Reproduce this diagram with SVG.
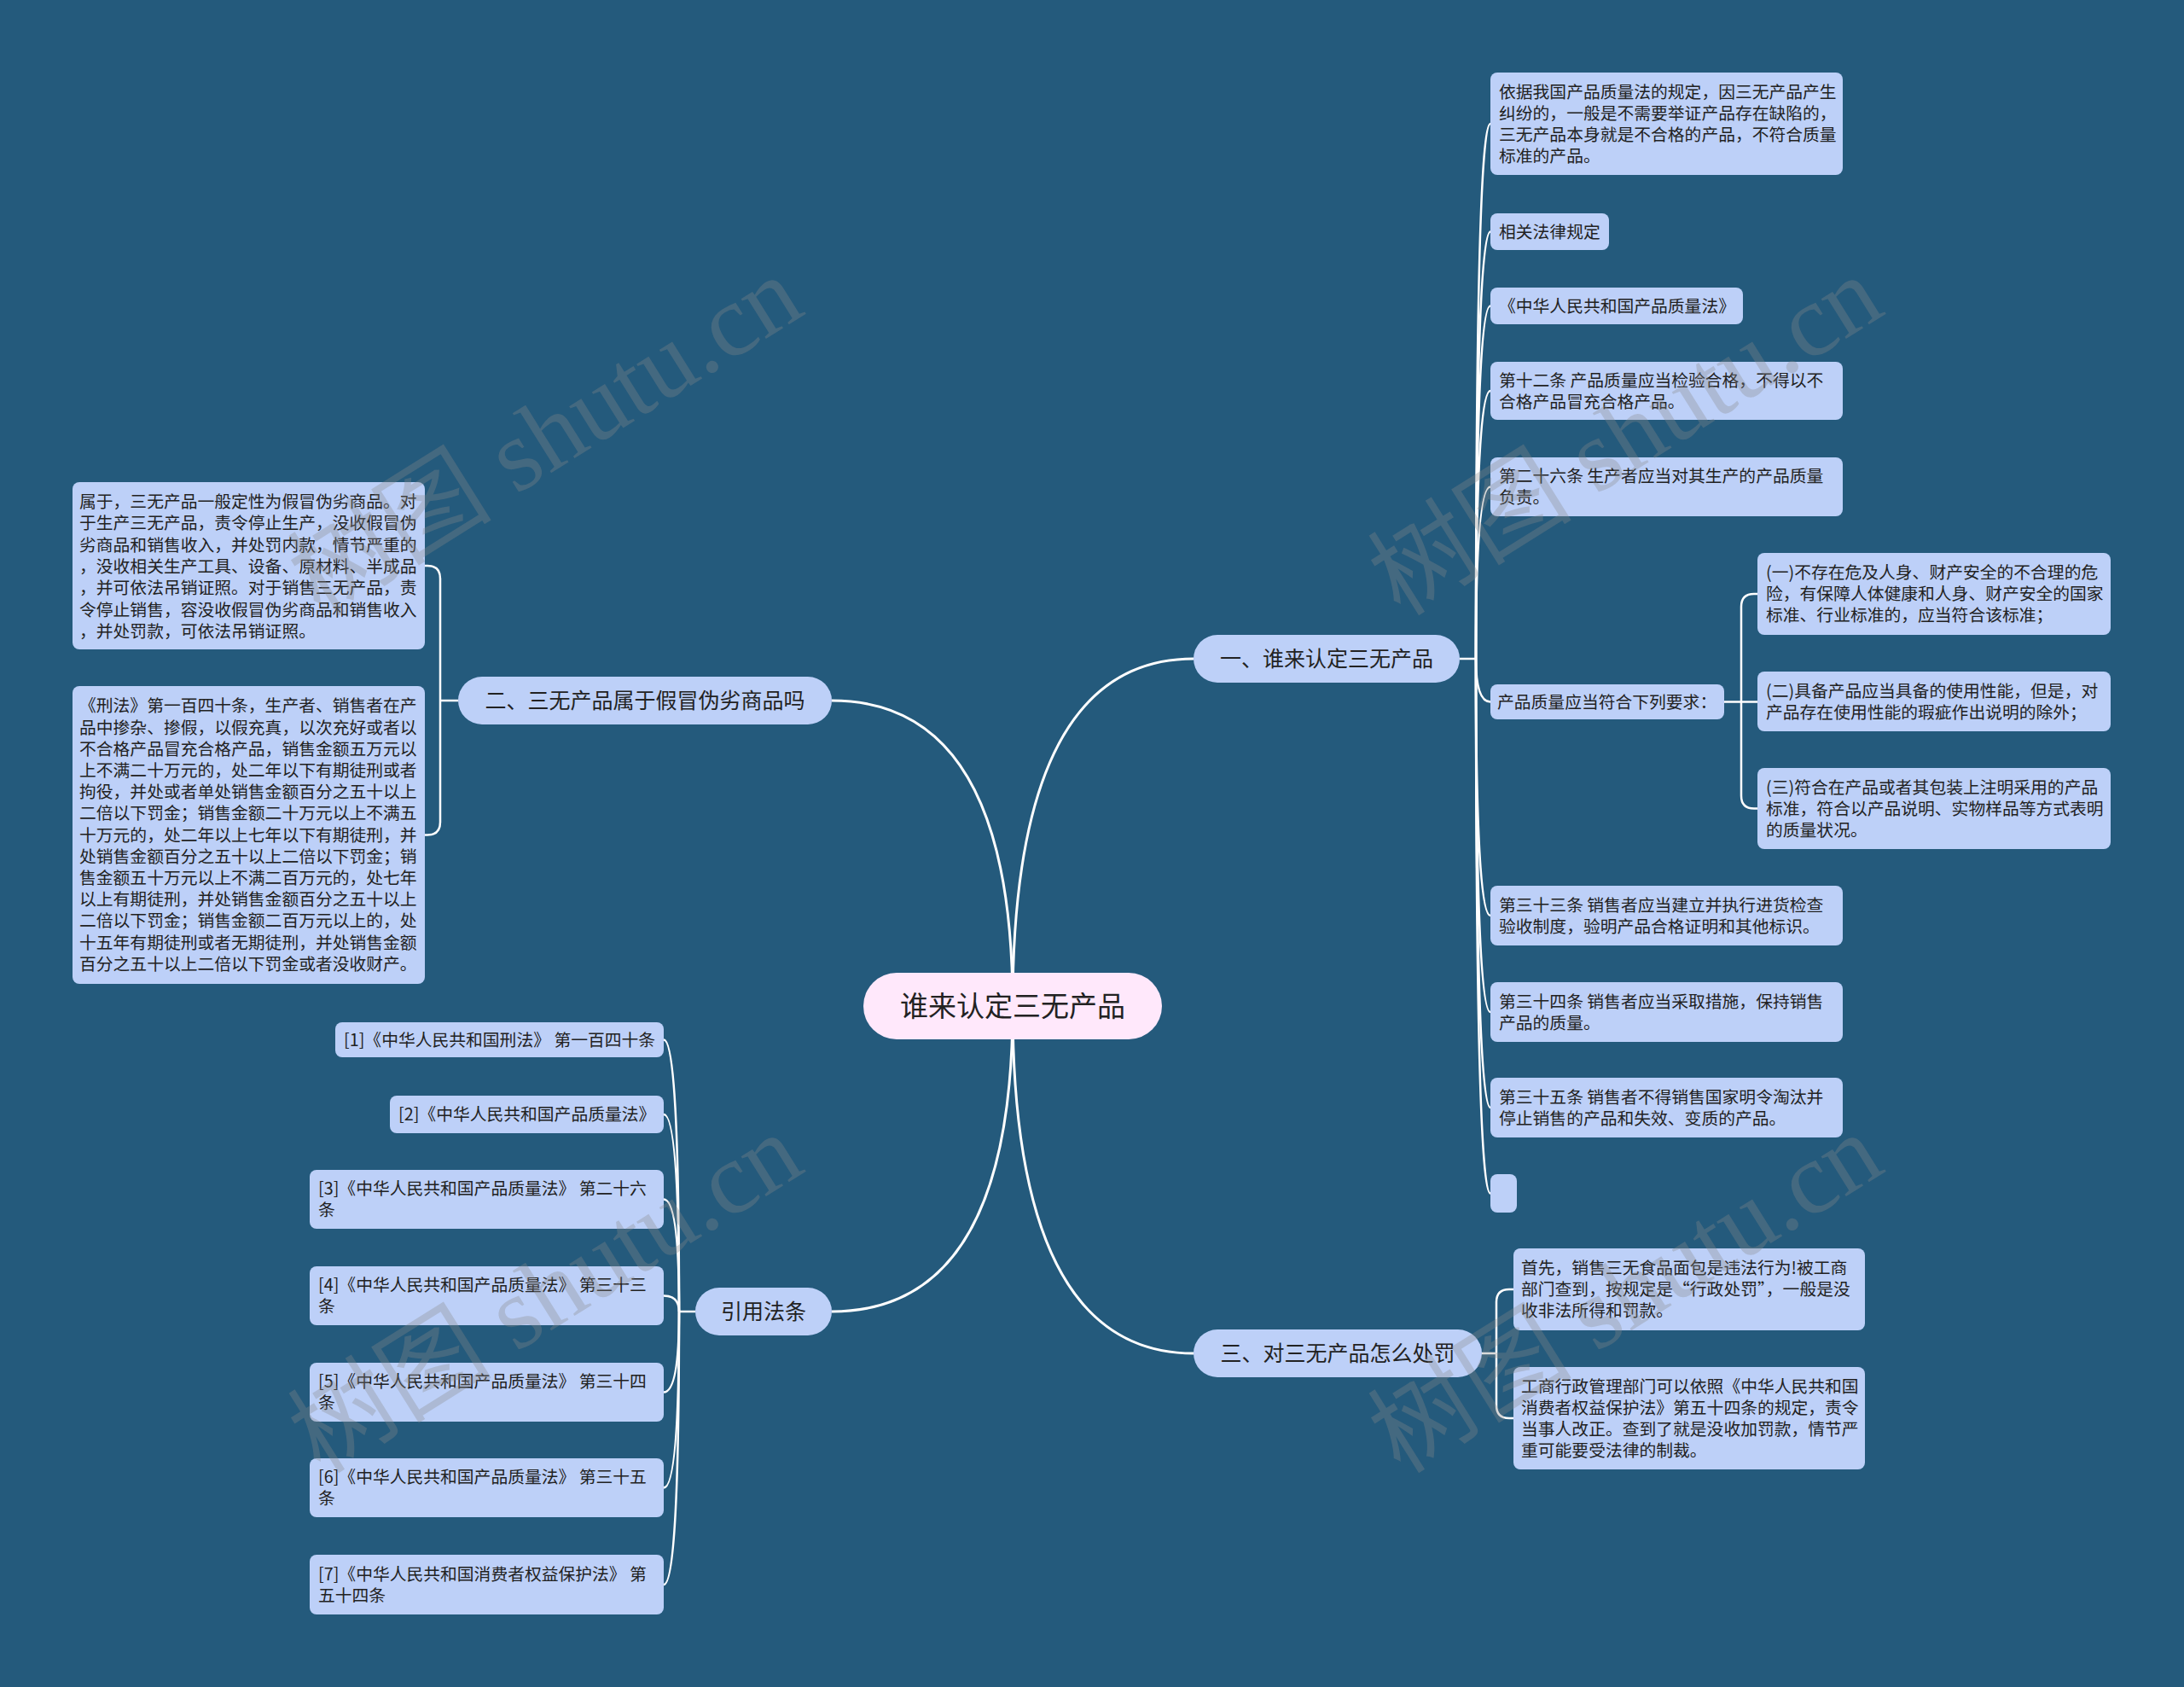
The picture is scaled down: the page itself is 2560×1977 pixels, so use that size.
<svg xmlns="http://www.w3.org/2000/svg" width="2560" height="1977" viewBox="0 0 2560 1977">
<style>
.t{font-family:"Noto Sans CJK SC","Liberation Sans",sans-serif;fill:#222;font-size:19.8px}
.b{font-size:25px;text-anchor:middle}
.rt{font-size:33px;text-anchor:middle}
.box{fill:#bdd0f8}
.pill{fill:#bdd0f8}
.root{fill:#ffe8fb}
.lk{fill:none;stroke:#fff;stroke-width:2.5}
.lk0{fill:none;stroke:#fff;stroke-width:3}
.wm{font-family:"Liberation Serif","Noto Sans CJK SC",serif;font-size:120px;fill:#8a8a8a;fill-opacity:0.32;text-anchor:middle}
</style>
<rect x="0" y="0" width="2560" height="1977" fill="#245a7c"/>

<g id="connectors">
  <path class="lk0" d="M1187,1179 Q1187,772 1399,772"/>
  <path class="lk0" d="M1187,1179 Q1187,821 975,821"/>
  <path class="lk0" d="M1187,1179 Q1187,1537 975,1537"/>
  <path class="lk0" d="M1187,1179 Q1187,1586 1399,1586"/>
  <path class="lk" d="M1711,772 H1730"/>
  <path class="lk" d="M1730,772 Q1730,145 1747,145"/>
  <path class="lk" d="M1730,772 Q1730,271.5 1747,271.5"/>
  <path class="lk" d="M1730,772 Q1730,358.5 1747,358.5"/>
  <path class="lk" d="M1730,772 Q1730,458 1747,458"/>
  <path class="lk" d="M1730,772 Q1730,570.5 1747,570.5"/>
  <path class="lk" d="M1730,772 Q1730,822.5 1747,822.5"/>
  <path class="lk" d="M1730,772 Q1730,1073 1747,1073"/>
  <path class="lk" d="M1730,772 Q1730,1186 1747,1186"/>
  <path class="lk" d="M1730,772 Q1730,1298 1747,1298"/>
  <path class="lk" d="M1730,772 Q1730,1398.5 1747,1398.5"/>
  <path class="lk" d="M2021,822.5 H2060"/>
  <path class="lk" d="M2041,822.5 V711 Q2041,696 2056,696 H2060"/>
  <path class="lk" d="M2041,822.5 V932.5 Q2041,947.5 2056,947.5 H2060"/>
  <path class="lk" d="M1737,1586 H1754"/>
  <path class="lk" d="M1754,1586 V1526 Q1754,1511 1769,1511 H1774"/>
  <path class="lk" d="M1754,1586 V1647 Q1754,1662 1769,1662 H1774"/>
  <path class="lk" d="M537,821 H516"/>
  <path class="lk" d="M516,821 V678 Q516,663 501,663 H498"/>
  <path class="lk" d="M516,821 V963.5 Q516,978.5 501,978.5 H498"/>
  <path class="lk" d="M815,1537 H796"/>
  <path class="lk" d="M796,1537 Q796,1218.5 778,1218.5"/>
  <path class="lk" d="M796,1537 Q796,1306 778,1306"/>
  <path class="lk" d="M796,1537 Q796,1405.5 778,1405.5"/>
  <path class="lk" d="M796,1537 Q796,1518.5 778,1518.5"/>
  <path class="lk" d="M796,1537 Q796,1631.5 778,1631.5"/>
  <path class="lk" d="M796,1537 Q796,1743.5 778,1743.5"/>
  <path class="lk" d="M796,1537 Q796,1857 778,1857"/>
</g>

<g id="root">
  <rect class="root" x="1012" y="1140" width="350" height="78" rx="39"/>
  <text class="t rt" x="1187" y="1191">谁来认定三无产品</text>
</g>

<g id="branch1">
  <rect class="pill" x="1399" y="744" width="312" height="56" rx="28"/>
  <text class="t b" x="1555" y="781">一、谁来认定三无产品</text>
</g>
<g id="branch2">
  <rect class="pill" x="537" y="793" width="438" height="56" rx="28"/>
  <text class="t b" x="756" y="830">二、三无产品属于假冒伪劣商品吗</text>
</g>
<g id="branch-refs">
  <rect class="pill" x="815" y="1509" width="160" height="56" rx="28"/>
  <text class="t b" x="895" y="1546">引用法条</text>
</g>
<g id="branch3">
  <rect class="pill" x="1399" y="1558" width="338" height="56" rx="28"/>
  <text class="t b" x="1568" y="1595">三、对三无产品怎么处罚</text>
</g>

<g id="c1">
  <rect class="box" x="1747" y="85" width="413" height="120" rx="8"/>
  <text class="t"><tspan x="1757" y="115">依据我国产品质量法的规定，因三无产品产生</tspan><tspan x="1757" y="140">纠纷的，一般是不需要举证产品存在缺陷的，</tspan><tspan x="1757" y="165">三无产品本身就是不合格的产品，不符合质量</tspan><tspan x="1757" y="190">标准的产品。</tspan></text>
</g>
<g id="c2">
  <rect class="box" x="1747" y="250" width="139" height="43" rx="8"/>
  <text class="t" x="1757" y="278.5">相关法律规定</text>
</g>
<g id="c3">
  <rect class="box" x="1747" y="337" width="296" height="43" rx="8"/>
  <text class="t" x="1757" y="365.5">《中华人民共和国产品质量法》</text>
</g>
<g id="c4">
  <rect class="box" x="1747" y="424" width="413" height="68" rx="8"/>
  <text class="t"><tspan x="1757" y="452.5">第十二条 产品质量应当检验合格，不得以不</tspan><tspan x="1757" y="477.5">合格产品冒充合格产品。</tspan></text>
</g>
<g id="c5">
  <rect class="box" x="1747" y="536" width="413" height="69" rx="8"/>
  <text class="t"><tspan x="1757" y="565">第二十六条 生产者应当对其生产的产品质量</tspan><tspan x="1757" y="590">负责。</tspan></text>
</g>
<g id="c6">
  <rect class="box" x="1747" y="802" width="274" height="41" rx="8"/>
  <text class="t" x="1755" y="829.5">产品质量应当符合下列要求：</text>
</g>
<g id="s1">
  <rect class="box" x="2060" y="648" width="414" height="96" rx="8"/>
  <text class="t"><tspan x="2070" y="678">(一)不存在危及人身、财产安全的不合理的危</tspan><tspan x="2070" y="703">险，有保障人体健康和人身、财产安全的国家</tspan><tspan x="2070" y="728">标准、行业标准的，应当符合该标准；</tspan></text>
</g>
<g id="s2">
  <rect class="box" x="2060" y="787" width="414" height="70" rx="8"/>
  <text class="t"><tspan x="2070" y="816.5">(二)具备产品应当具备的使用性能，但是，对</tspan><tspan x="2070" y="841.5">产品存在使用性能的瑕疵作出说明的除外；</tspan></text>
</g>
<g id="s3">
  <rect class="box" x="2060" y="900" width="414" height="95" rx="8"/>
  <text class="t"><tspan x="2070" y="929.5">(三)符合在产品或者其包装上注明采用的产品</tspan><tspan x="2070" y="954.5">标准，符合以产品说明、实物样品等方式表明</tspan><tspan x="2070" y="979.5">的质量状况。</tspan></text>
</g>
<g id="c7">
  <rect class="box" x="1747" y="1038" width="413" height="70" rx="8"/>
  <text class="t"><tspan x="1757" y="1067.5">第三十三条 销售者应当建立并执行进货检查</tspan><tspan x="1757" y="1092.5">验收制度，验明产品合格证明和其他标识。</tspan></text>
</g>
<g id="c8">
  <rect class="box" x="1747" y="1151" width="413" height="70" rx="8"/>
  <text class="t"><tspan x="1757" y="1180.5">第三十四条 销售者应当采取措施，保持销售</tspan><tspan x="1757" y="1205.5">产品的质量。</tspan></text>
</g>
<g id="c9">
  <rect class="box" x="1747" y="1263" width="413" height="70" rx="8"/>
  <text class="t"><tspan x="1757" y="1292.5">第三十五条 销售者不得销售国家明令淘汰并</tspan><tspan x="1757" y="1317.5">停止销售的产品和失效、变质的产品。</tspan></text>
</g>
<g id="c10">
  <rect class="box" x="1747" y="1376" width="31" height="45" rx="8"/>
</g>

<g id="d1">
  <rect class="box" x="1774" y="1463" width="412" height="96" rx="8"/>
  <text class="t"><tspan x="1783" y="1493">首先，销售三无食品面包是违法行为!被工商</tspan><tspan x="1783" y="1518">部门查到，按规定是“行政处罚”，一般是没</tspan><tspan x="1783" y="1543">收非法所得和罚款。</tspan></text>
</g>
<g id="d2">
  <rect class="box" x="1774" y="1602" width="412" height="120" rx="8"/>
  <text class="t"><tspan x="1783" y="1631.5">工商行政管理部门可以依照《中华人民共和国</tspan><tspan x="1783" y="1656.5">消费者权益保护法》第五十四条的规定，责令</tspan><tspan x="1783" y="1681.5">当事人改正。查到了就是没收加罚款，情节严</tspan><tspan x="1783" y="1706.5">重可能要受法律的制裁。</tspan></text>
</g>

<g id="b1">
  <rect class="box" x="85" y="565" width="413" height="196" rx="8"/>
  <text class="t"><tspan x="93" y="595">属于，三无产品一般定性为假冒伪劣商品。对</tspan><tspan x="93" y="620.3">于生产三无产品，责令停止生产，没收假冒伪</tspan><tspan x="93" y="645.6">劣商品和销售收入，并处罚内款，情节严重的</tspan><tspan x="93" y="670.9">，没收相关生产工具、设备、原材料、半成品</tspan><tspan x="93" y="696.2">，并可依法吊销证照。对于销售三无产品，责</tspan><tspan x="93" y="721.5">令停止销售，容没收假冒伪劣商品和销售收入</tspan><tspan x="93" y="746.8">，并处罚款，可依法吊销证照。</tspan></text>
</g>
<g id="b2">
  <rect class="box" x="85" y="804" width="413" height="349" rx="8"/>
  <text class="t"><tspan x="93" y="834.3">《刑法》第一百四十条，生产者、销售者在产</tspan><tspan x="93" y="859.5">品中掺杂、掺假，以假充真，以次充好或者以</tspan><tspan x="93" y="884.7">不合格产品冒充合格产品，销售金额五万元以</tspan><tspan x="93" y="909.9">上不满二十万元的，处二年以下有期徒刑或者</tspan><tspan x="93" y="935.1">拘役，并处或者单处销售金额百分之五十以上</tspan><tspan x="93" y="960.3">二倍以下罚金；销售金额二十万元以上不满五</tspan><tspan x="93" y="985.5">十万元的，处二年以上七年以下有期徒刑，并</tspan><tspan x="93" y="1010.7">处销售金额百分之五十以上二倍以下罚金；销</tspan><tspan x="93" y="1035.9">售金额五十万元以上不满二百万元的，处七年</tspan><tspan x="93" y="1061.1">以上有期徒刑，并处销售金额百分之五十以上</tspan><tspan x="93" y="1086.3">二倍以下罚金；销售金额二百万元以上的，处</tspan><tspan x="93" y="1111.5">十五年有期徒刑或者无期徒刑，并处销售金额</tspan><tspan x="93" y="1136.7">百分之五十以上二倍以下罚金或者没收财产。</tspan></text>
</g>

<g id="r1">
  <rect class="box" x="393" y="1198" width="385" height="41" rx="8"/>
  <text class="t" x="403" y="1225.5">[1]《中华人民共和国刑法》 第一百四十条</text>
</g>
<g id="r2">
  <rect class="box" x="457" y="1284" width="321" height="44" rx="8"/>
  <text class="t" x="467" y="1313">[2]《中华人民共和国产品质量法》</text>
</g>
<g id="r3">
  <rect class="box" x="363" y="1371" width="415" height="69" rx="8"/>
  <text class="t"><tspan x="373" y="1400">[3]《中华人民共和国产品质量法》 第二十六</tspan><tspan x="373" y="1425">条</tspan></text>
</g>
<g id="r4">
  <rect class="box" x="363" y="1484" width="415" height="69" rx="8"/>
  <text class="t"><tspan x="373" y="1513">[4]《中华人民共和国产品质量法》 第三十三</tspan><tspan x="373" y="1538">条</tspan></text>
</g>
<g id="r5">
  <rect class="box" x="363" y="1597" width="415" height="69" rx="8"/>
  <text class="t"><tspan x="373" y="1626">[5]《中华人民共和国产品质量法》 第三十四</tspan><tspan x="373" y="1651">条</tspan></text>
</g>
<g id="r6">
  <rect class="box" x="363" y="1709" width="415" height="69" rx="8"/>
  <text class="t"><tspan x="373" y="1738">[6]《中华人民共和国产品质量法》 第三十五</tspan><tspan x="373" y="1763">条</tspan></text>
</g>
<g id="r7">
  <rect class="box" x="363" y="1822" width="415" height="70" rx="8"/>
  <text class="t"><tspan x="373" y="1851.5">[7]《中华人民共和国消费者权益保护法》 第</tspan><tspan x="373" y="1876.5">五十四条</tspan></text>
</g>

<g id="watermarks">
  <text class="wm" transform="translate(661,545) rotate(-32)">树图 shutu.cn</text>
  <text class="wm" transform="translate(1927,545) rotate(-32)">树图 shutu.cn</text>
  <text class="wm" transform="translate(661,1550) rotate(-32)">树图 shutu.cn</text>
  <text class="wm" transform="translate(1927,1550) rotate(-32)">树图 shutu.cn</text>
</g>
</svg>
